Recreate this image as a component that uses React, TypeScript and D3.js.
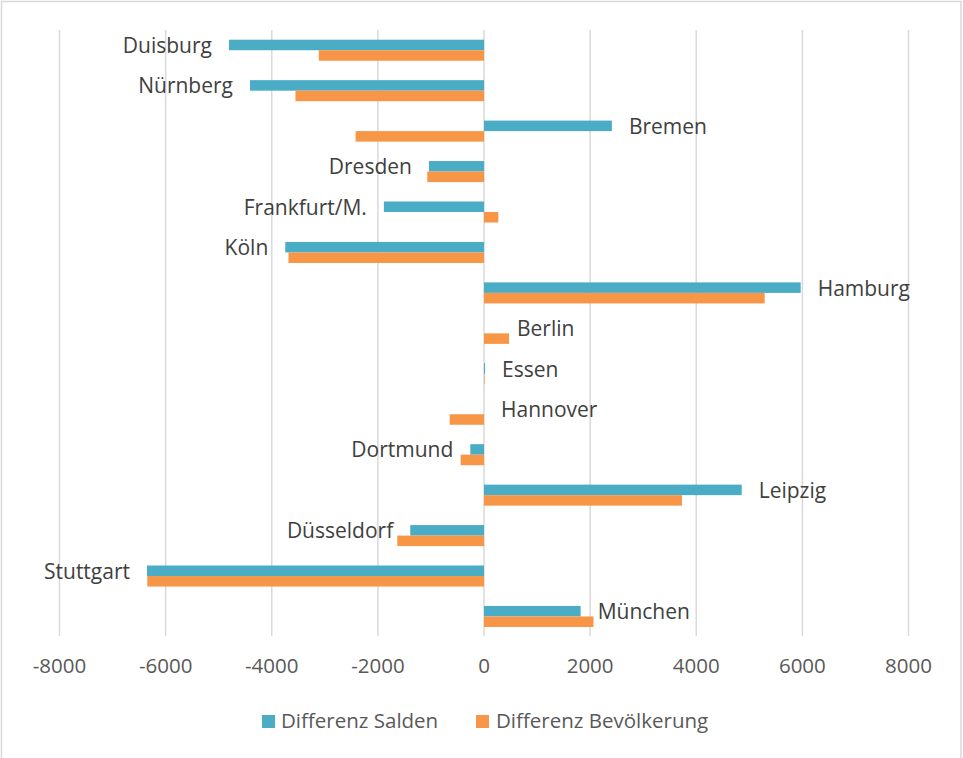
import React from "react";
import * as d3 from "d3";

const cities = [
  "Duisburg", "Nürnberg", "Bremen", "Dresden", "Frankfurt/M.", "Köln", "Hamburg",
  "Berlin", "Essen", "Hannover", "Dortmund", "Leipzig", "Düsseldorf", "Stuttgart", "München",
];
const saldenDiff = [
  -4806, -4410, 2410, -1038, -1887, -3745, 5968, 0, 20, 0, -258, 4857, -1390, -6351, 1821,
];
const bevoelkerungDiff = [
  -3113, -3553, -2420, -1069, 270, -3685, 5289, 472, 10, -647, -440, 3732, -1634, -6345, 2064,
];
const tickValues = [-8000, -6000, -4000, -2000, 0, 2000, 4000, 6000, 8000];
const seriesNames = ["Differenz Salden", "Differenz Bevölkerung"];
const seriesColors = ["#4BACC6", "#F79646"];

const W = 963;
const H = 758;
const FONT = "'Open Sans', sans-serif";

export default function App() {
  const x = d3.scaleLinear().domain([-8000, 8000]).range([59.5, 908.5]);
  const y = d3
    .scaleBand<string>()
    .domain(cities)
    .range([30, 636.7])
    .paddingInner(0.48)
    .paddingOuter(0.24);
  const sub = d3.scaleBand<string>().domain(seriesNames).range([0, y.bandwidth()]);
  const series = [saldenDiff, bevoelkerungDiff];
  const x0 = x(0);

  const labelNudge: Record<string, number> = { Berlin: 16 };

  const legendPos = [
    { sx: 262, tx: 281 },
    { sx: 476, tx: 496 },
  ];

  return (
    <div style={{ position: "absolute", left: 0, top: 0 }}>
      <svg width={W} height={H} style={{ display: "block", background: "#fff" }}>
        <rect x={1.5} y={1.5} width={959.5} height={H + 10} fill="#fff" stroke="#d9d9d9" strokeWidth={1.5} />
        {tickValues.map((t) => (
          <line key={"g" + t} x1={x(t)} x2={x(t)} y1={30} y2={636} stroke="#d9d9d9" strokeWidth={1.5} />
        ))}
        {tickValues.map((t) => (
          <text
            key={"t" + t}
            x={x(t)}
            y={673}
            textAnchor="middle"
            fontFamily={FONT}
            fontSize={20.5}
            fill="#595959"
          >
            {t}
          </text>
        ))}
        {cities.map((c, i) => (
          <g key={c}>
            {series.map((s, k) => {
              const v = s[i];
              const yy = (y(c) as number) + (sub(seriesNames[k]) as number);
              return (
                <rect
                  key={k}
                  x={Math.min(x(v), x0)}
                  y={yy}
                  width={Math.abs(x(v) - x0)}
                  height={sub.bandwidth()}
                  fill={seriesColors[k]}
                />
              );
            })}
          </g>
        ))}
        {cities.map((c, i) => {
          const v = saldenDiff[i];
          const cy = (y(c) as number) + (sub(seriesNames[0]) as number) + sub.bandwidth() / 2;
          const neg = v < 0;
          const lx = x(v) + (neg ? -17 : 17) + (labelNudge[c] || 0);
          return (
            <text
              key={"l" + c}
              x={lx}
              y={cy + 8}
              textAnchor={neg ? "end" : "start"}
              fontFamily={FONT}
              fontSize={21}
              fill="#404040"
            >
              {c}
            </text>
          );
        })}
        {seriesNames.map((n, k) => (
          <g key={n}>
            <rect x={legendPos[k].sx} y={715} width={13} height={13} fill={seriesColors[k]} />
            <text x={legendPos[k].tx} y={728} fontFamily={FONT} fontSize={20.5} fill="#595959">
              {n}
            </text>
          </g>
        ))}
      </svg>
    </div>
  );
}
